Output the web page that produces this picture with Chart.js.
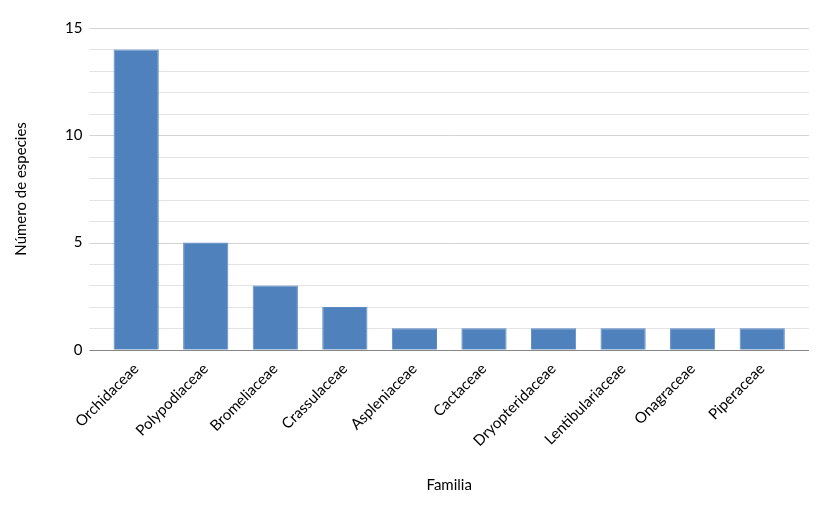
<!DOCTYPE html>
<html>
<head>
<meta charset="utf-8">
<script src="https://cdn.jsdelivr.net/npm/chart.js@4/dist/chart.umd.min.js"></script>
<style>
  html, body { margin: 0; padding: 0; background: #fff; }
  #wrap { width: 831px; height: 509px; }
</style>
</head>
<body>
<div id="wrap"><canvas id="familias-chart"></canvas></div>
<script>
const familias = ["Orchidaceae", "Polypodiaceae", "Bromeliaceae", "Crassulaceae", "Aspleniaceae",
  "Cactaceae", "Dryopteridaceae", "Lentibulariaceae", "Onagraceae", "Piperaceae"];
const especies = [14, 5, 3, 2, 1, 1, 1, 1, 1, 1];
const yMax = 15;
const yLabelEvery = 5;

const ctx = document.getElementById("familias-chart").getContext("2d");
const font = "Lato, 'Open Sans', sans-serif";

// gridlines in the reference reach a bit past the first and last category
const gridOverhang = 12;
const wideGrid = {
  id: "wideGrid",
  beforeDatasetsDraw(chart) {
    const { ctx, chartArea, scales } = chart;
    const left = chartArea.left - gridOverhang;
    const right = chartArea.right + gridOverhang;
    ctx.save();
    scales.y.ticks.forEach(t => {
      const y = Math.round(scales.y.getPixelForValue(t.value)) + 0.5;
      ctx.beginPath();
      if (t.value === 0) {
        ctx.strokeStyle = "#868686";
      } else {
        ctx.strokeStyle = t.value % yLabelEvery === 0 ? "#d4d4d4" : "#e3e3e3";
      }
      ctx.lineWidth = 1;
      ctx.moveTo(left, y);
      ctx.lineTo(right, y);
      ctx.stroke();
    });
    ctx.restore();
  }
};

new Chart(ctx, {
  type: "bar",
  data: {
    labels: familias,
    datasets: [{
      label: "Número de especies",
      data: especies,
      backgroundColor: "#4f81bd",
      borderColor: "#5b8ac4",
      borderWidth: 1,
      categoryPercentage: 0.65,
      barPercentage: 1
    }]
  },
  options: {
    responsive: true,
    maintainAspectRatio: false,
    animation: false,
    layout: { padding: { top: 25, right: 34, bottom: 11, left: 8 } },
    plugins: { legend: { display: false }, tooltip: { enabled: false } },
    scales: {
      x: {
        grid: { display: false, drawTicks: false },
        border: { display: false },
        ticks: {
          color: "#000",
          font: { family: font, size: 15 },
          minRotation: 45,
          maxRotation: 45,
          autoSkip: false,
          padding: 10
        },
        title: {
          display: true,
          text: "Familia",
          color: "#000",
          font: { family: font, size: 15 },
          padding: { top: 16 }
        }
      },
      y: {
        min: 0,
        max: yMax,
        border: { display: false },
        grid: { display: false, drawTicks: false },
        ticks: {
          stepSize: 1,
          autoSkip: false,
          color: "#000",
          padding: 19,
          font: { family: font, size: 15 },
          callback: v => (v % yLabelEvery === 0 ? v : "")
        },
        title: {
          display: true,
          text: "Número de especies",
          color: "#000",
          font: { family: font, size: 15 },
          padding: { bottom: 16 }
        }
      }
    }
  },
  plugins: [wideGrid]
});
</script>
</body>
</html>
